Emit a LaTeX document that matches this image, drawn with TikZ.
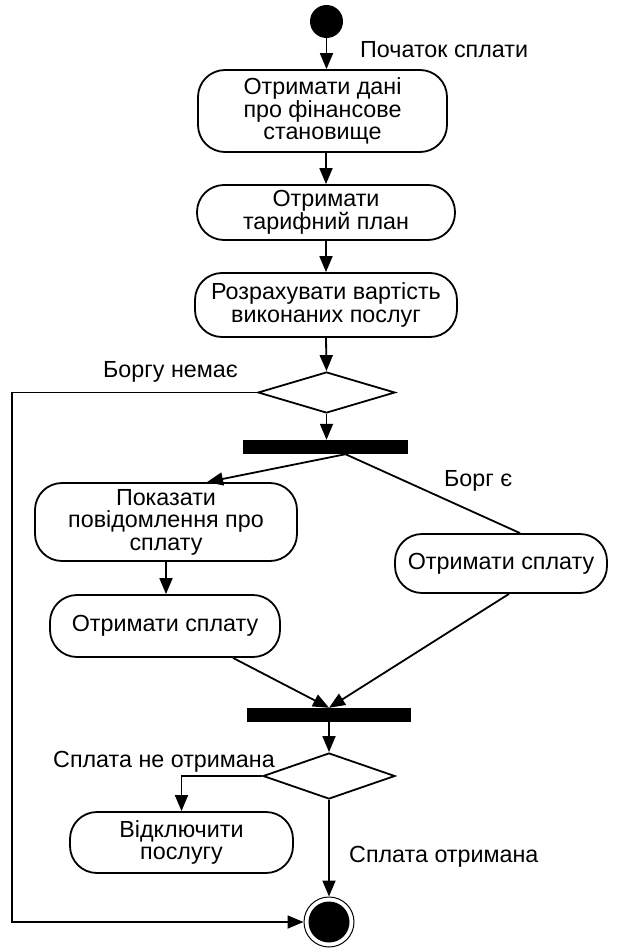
\documentclass[tikz,border=0pt]{standalone}
\usepackage{fontspec}
\setmainfont{Liberation Sans}
\usetikzlibrary{arrows.meta,shapes.geometric,calc}

\tikzset{
  txt/.style={font=\fontsize{23.3pt}{22.5pt}\selectfont},
  act/.style={txt, draw, line width=1.8pt, rounded corners=27pt, align=center, inner sep=0pt},
  bar/.style={fill=black, draw=none, inner sep=0pt},
  decision/.style={diamond, draw, line width=1.8pt, inner sep=0pt, aspect=3},
  initstate/.style={circle, fill=black, inner sep=0pt, minimum size=33pt},
  finalstate/.style={circle, draw, line width=1pt, inner sep=0pt, minimum size=50pt,
    path picture={\fill (path picture bounding box.center) circle (20.5pt);}},
  flow/.style={line width=1.8pt, -{Triangle[length=16pt,width=13pt]}},
  plain/.style={line width=1.8pt},
  lbl/.style={txt, anchor=base west, inner sep=0pt}
}

\begin{document}
\begin{tikzpicture}[x=1pt,y=-1pt]
\useasboundingbox (0,0) rectangle (617,950);

% states and activities
\node[initstate] (start) at (326.5,21.5) {};
\node[act, minimum width=249pt, minimum height=82pt] (b1) at (322.5,111)
  {Отримати дані\\про фінансове\\становище};
\node[act, minimum width=258pt, minimum height=55pt] (b2) at (326,212.5)
  {Отримати\\тарифний план};
\node[act, minimum width=262pt, minimum height=64pt] (b3) at (326,305)
  {Розрахувати вартість\\виконаних послуг};
\node[decision, minimum width=137pt, minimum height=41pt] (d1) at (326.5,392.5) {};
\node[bar, minimum width=165pt, minimum height=14pt] (bar1) at (325.5,447) {};
\node[act, minimum width=262pt, minimum height=78pt] (b4) at (166,522)
  {Показати\\повідомлення про\\сплату};
\node[act, minimum width=230pt, minimum height=62pt] (b5) at (165,626)
  {Отримати сплату};
\node[act, minimum width=212pt, minimum height=59pt] (rb) at (501,563.5)
  {Отримати сплату};
\node[bar, minimum width=164pt, minimum height=14pt] (bar2) at (329,715) {};
\node[decision, minimum width=132pt, minimum height=46pt] (d2) at (329,776) {};
\node[act, minimum width=223pt, minimum height=61pt] (b6) at (181.5,842.5)
  {Відключити\\послугу};
\node[finalstate] (end) at (329,922) {};

\coordinate (lc) at (12,0);

% control flow
\draw[flow] (start.south) -- (start.south |- b1.north);
\draw[flow] (b2.north |- b1.south) -- (b2.north);
\draw[flow] (b2.south) -- (b3.north);
\draw[flow] (b3.south) -- (d1.north);
\draw[flow] (d1.south) -- (d1.south |- bar1.north);
\draw[flow] (d1.west) -- (d1.west -| lc) -- (end.west -| lc) -- (end.west);
\draw[flow] ($(bar1.south)+(20,0)$) -- ($(b4.north)+(41,0)$);
\draw[plain] ($(bar1.south)+(20,0)$) -- ($(rb.north)+(19,0)$);
\draw[flow] (b4.south) -- (b4.south |- b5.north);
\draw[flow] ($(b5.south)+(68,0)$) -- (bar2.north);
\draw[flow] ($(rb.south)+(8,0)$) -- (bar2.north);
\draw[flow] (bar2.south) -- (d2.north);
\draw[flow] (d2.west) -| (b6.north);
\draw[flow] (d2.south) -- (end.north);

% guard and flow labels
\node[lbl] (l0) at (360,57) {Початок сплати};
\node[lbl] (l1) at (103,377) {Боргу немає};
\node[lbl] (l2) at (444,486) {Борг є};
\node[lbl] (l3) at (53,767) {Сплата не отримана};
\node[lbl] (l4) at (349,862) {Сплата отримана};
\end{tikzpicture}
\end{document}
